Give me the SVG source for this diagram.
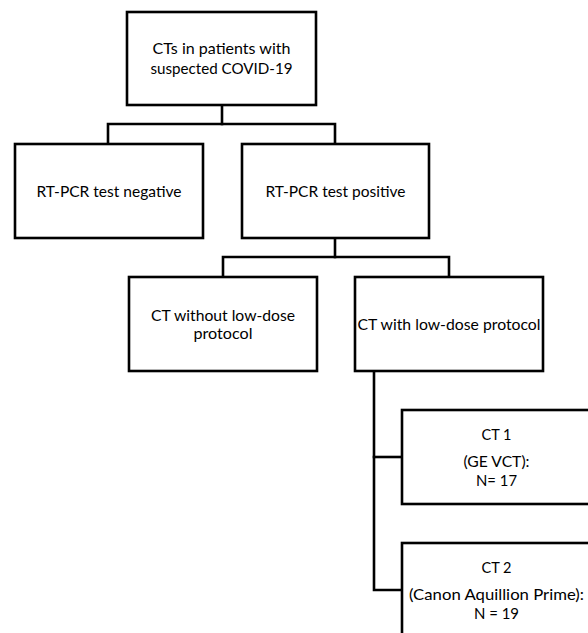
<svg xmlns="http://www.w3.org/2000/svg" width="588" height="633" viewBox="0 0 588 633">
<style>
.box{fill:#fff;stroke:#000;stroke-width:2.6}
.conn{fill:none;stroke:#000;stroke-width:2.6;stroke-linejoin:miter;stroke-linecap:square}
text{font-family:Lato,"Open Sans","Liberation Sans",sans-serif;font-size:16px;fill:#000;text-anchor:middle}
</style>
<rect width="588" height="633" fill="#fff"/>
<g id="connectors">
<path class="conn" d="M222,105 V124"/>
<path class="conn" d="M108,144 V124 H335 V144"/>
<path class="conn" d="M335,238 V257"/>
<path class="conn" d="M223,277 V257 H449 V277"/>
<path class="conn" d="M374,371 V590 H402"/>
<path class="conn" d="M374,457 H402"/>
</g>
<g id="node-suspected">
<rect class="box" x="127" y="12" width="189" height="93"/>
<text x="221.5" y="54" textLength="138" lengthAdjust="spacingAndGlyphs">CTs in patients with</text>
<text x="221.5" y="74" textLength="142" lengthAdjust="spacingAndGlyphs">suspected COVID-19</text>
</g>
<g id="node-negative">
<rect class="box" x="15" y="144" width="188" height="94"/>
<text x="109" y="197" textLength="145" lengthAdjust="spacingAndGlyphs">RT-PCR test negative</text>
</g>
<g id="node-positive">
<rect class="box" x="242" y="144" width="187" height="94"/>
<text x="335.5" y="197" textLength="140" lengthAdjust="spacingAndGlyphs">RT-PCR test positive</text>
</g>
<g id="node-without-lowdose">
<rect class="box" x="129" y="277" width="188" height="94"/>
<text x="223" y="321" textLength="144" lengthAdjust="spacingAndGlyphs">CT without low-dose</text>
<text x="223" y="339" textLength="59" lengthAdjust="spacingAndGlyphs">protocol</text>
</g>
<g id="node-with-lowdose">
<rect class="box" x="355" y="277" width="188" height="94"/>
<text x="449" y="330" textLength="183" lengthAdjust="spacingAndGlyphs">CT with low-dose protocol</text>
</g>
<g id="node-ct1">
<rect class="box" x="402" y="410" width="189" height="94"/>
<text x="496.5" y="440" textLength="30" lengthAdjust="spacingAndGlyphs">CT 1</text>
<text x="496.5" y="467" textLength="66" lengthAdjust="spacingAndGlyphs">(GE VCT):</text>
<text x="496.5" y="486" textLength="41" lengthAdjust="spacingAndGlyphs">N= 17</text>
</g>
<g id="node-ct2">
<rect class="box" x="402" y="543" width="189" height="94"/>
<text x="496.5" y="573" textLength="30" lengthAdjust="spacingAndGlyphs">CT 2</text>
<text x="496.5" y="600" textLength="175" lengthAdjust="spacingAndGlyphs">(Canon Aquillion Prime):</text>
<text x="496.5" y="619" textLength="45" lengthAdjust="spacingAndGlyphs">N = 19</text>
</g>
</svg>
